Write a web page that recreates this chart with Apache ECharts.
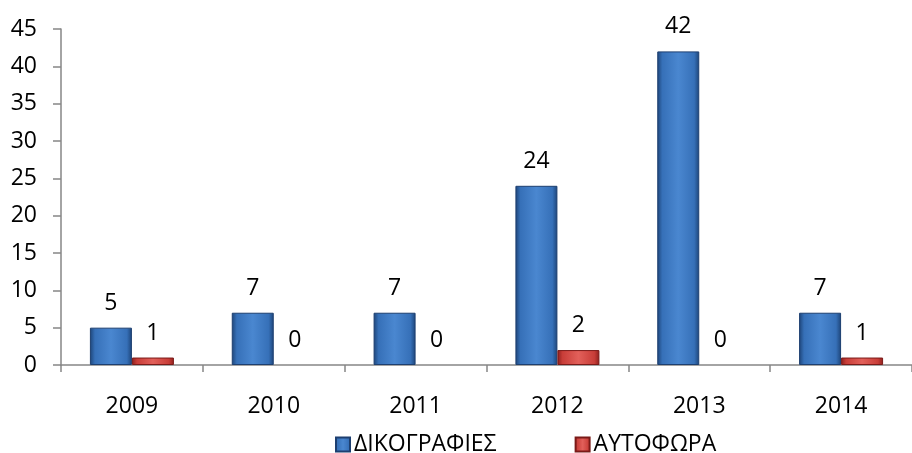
<!DOCTYPE html>
<html><head><meta charset="utf-8">
<script src="https://cdn.jsdelivr.net/npm/echarts@6/dist/echarts.min.js"></script>
<style>html,body{margin:0;padding:0;background:#fff}#c{width:912px;height:453px}</style>
</head><body><div id="c"></div>
<script>
const categories = ['2009','2010','2011','2012','2013','2014'];
const seriesNames = ['ΔΙΚΟΓΡΑΦΙΕΣ','ΑΥΤΟΦΩΡΑ'];
const dikografies = [5,7,7,24,42,7];
const autofora = [1,0,0,2,0,1];
const yTicks = [0,5,10,15,20,25,30,35,40,45];

const font = '"Open Sans", "Noto Sans", sans-serif';
const FS = 23;
function grad(dark, light, mid){
  return new echarts.graphic.LinearGradient(0,0,1,0,[
    {offset:0,color:dark},{offset:0.12,color:mid},{offset:0.5,color:light},{offset:0.88,color:mid},{offset:1,color:dark}]);
}
function items(arr){
  return arr.map(v => v === 0 ? {value:v, itemStyle:{borderWidth:0}} : v);
}
const chart = echarts.init(document.getElementById('c'));
chart.setOption({
  animation:false,
  grid:{left:61, top:29, width:860, height:336},
  legend:{
    data:seriesNames, top:428, left:330, itemWidth:14, itemHeight:14, itemGap:78,
    icon:'rect',
    textStyle:{fontFamily:font, fontSize:FS, color:'#000', padding:[0,0,0,-1]}
  },
  xAxis:{
    type:'category', data:categories,
    axisLine:{lineStyle:{color:'#868686', width:1.5}},
    axisTick:{show:true, length:7, lineStyle:{color:'#868686', width:1.5}},
    axisLabel:{fontFamily:font, fontSize:FS, color:'#000', margin:30}
  },
  yAxis:{
    type:'value', min:yTicks[0], max:yTicks[yTicks.length-1], interval:5,
    splitLine:{show:false},
    axisLine:{show:true, lineStyle:{color:'#868686', width:1.5}},
    axisTick:{show:true, length:8, lineStyle:{color:'#868686', width:1.5}},
    axisLabel:{fontFamily:font, fontSize:FS, color:'#000', margin:24}
  },
  series:[
    {name:seriesNames[0], type:'bar', data:items(dikografies), barWidth:42, barGap:'0%',
     itemStyle:{color:grad('#1d4478','#4a87d0','#3670b8'), borderColor:'#1d3f70', borderWidth:1},
     label:{show:true, position:'top', distance:13, fontFamily:font, fontSize:FS, color:'#000'}},
    {name:seriesNames[1], type:'bar', data:items(autofora), barWidth:42,
     itemStyle:{color:grad('#8c1f1c','#e2605a','#c83d38'), borderColor:'#7a1a18', borderWidth:1},
     label:{show:true, position:'top', distance:13, fontFamily:font, fontSize:FS, color:'#000'}}
  ]
});
</script></body></html>
